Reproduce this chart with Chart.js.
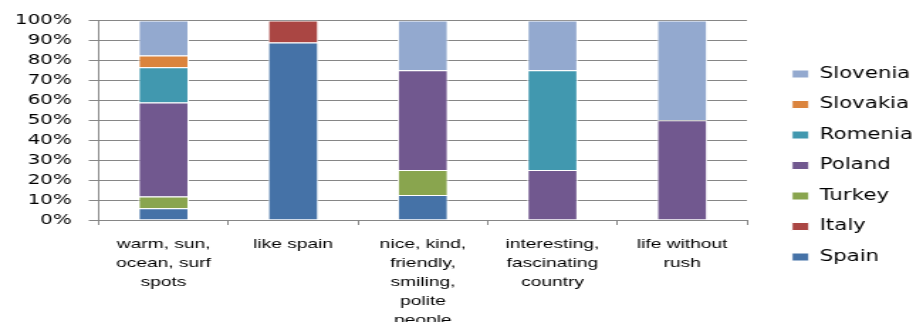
<!DOCTYPE html>
<html>
<head>
<meta charset="utf-8">
<script src="https://cdn.jsdelivr.net/npm/chart.js@4.4.1/dist/chart.umd.min.js"></script>
<style>
  html, body { margin: 0; padding: 0; background: #fff; overflow: hidden; }
  /* the reference is stretched sideways, so draw narrow and widen */
  #wrap { width: 643px; height: 322px; transform: scaleX(1.42); transform-origin: 0 0; }
</style>
</head>
<body>
<div id="wrap"><canvas id="answers"></canvas></div>
<script>
const categories = [
  ['warm, sun,', 'ocean, surf', 'spots'],
  'like spain',
  ['nice, kind,', 'friendly,', 'smiling,', 'polite', 'people'],
  ['interesting,', 'fascinating', 'country'],
  ['life without', 'rush']
];

// share of answers per country, in percent
const spain    = [5.9, 88.9, 12.5, 0, 0];
const italy    = [0, 11.1, 0, 0, 0];
const turkey   = [5.9, 0, 12.5, 0, 0];
const poland   = [47.1, 0, 50, 25, 50];
const romenia  = [17.6, 0, 0, 50, 0];
const slovakia = [5.9, 0, 0, 0, 0];
const slovenia = [17.6, 0, 25, 25, 50];

const yTicks = [0, 10, 20, 30, 40, 50, 60, 70, 80, 90, 100];

const gridColor = '#868686';
const legendWidth = 117;
const legendBoxX = 557.7;
const legendPadding = 15.5;

function series(label, data, color) {
  return {
    label: label,
    data: data,
    backgroundColor: color,
    borderColor: '#ffffff',
    borderWidth: 1,
    barPercentage: 0.39,
    categoryPercentage: 1
  };
}

// put the legend where the reference has it
const legendPlace = {
  id: 'legendPlace',
  beforeLayout(chart) {
    const lg = chart.legend;
    if (lg && !lg._patched) {
      const fit = lg.fit;
      lg.fit = function () {
        fit.call(this);
        this.width = legendWidth;
      };
      lg._patched = true;
    }
  },
  afterLayout(chart) {
    const lg = chart.legend;
    const w = lg.right - lg.left;
    lg.left = legendBoxX - legendPadding;
    lg.right = lg.left + w;
    lg.top = 6;
    lg.bottom = 325;
  }
};

Chart.defaults.font.family = '"DejaVu Sans", Verdana, sans-serif';
Chart.defaults.color = '#000000';

new Chart(document.getElementById('answers'), {
  type: 'bar',
  data: {
    labels: categories,
    datasets: [
      series('Spain', spain, '#4572A7'),
      series('Italy', italy, '#AA4643'),
      series('Turkey', turkey, '#89A54E'),
      series('Poland', poland, '#71588F'),
      series('Romenia', romenia, '#4198AF'),
      series('Slovakia', slovakia, '#DB843D'),
      series('Slovenia', slovenia, '#93A9CF')
    ]
  },
  options: {
    responsive: true,
    maintainAspectRatio: false,
    animation: false,
    layout: {
      padding: { top: 19, left: -1.5, right: 0, bottom: -17 }
    },
    plugins: {
      tooltip: { enabled: false },
      legend: {
        position: 'right',
        reverse: true,
        labels: {
          boxWidth: 12,
          boxHeight: 8,
          padding: legendPadding,
          color: '#000000',
          font: { size: 15 }
        }
      }
    },
    scales: {
      x: {
        stacked: true,
        grid: {
          drawOnChartArea: false,
          drawTicks: true,
          tickLength: 5,
          color: gridColor
        },
        border: { color: gridColor },
        ticks: {
          autoSkip: false,
          maxRotation: 0,
          minRotation: 0,
          padding: 9.5,
          color: '#000000',
          font: {
            family: '"Liberation Sans", Arial, sans-serif',
            size: 13.5,
            lineHeight: '19px'
          }
        }
      },
      y: {
        stacked: true,
        min: 0,
        max: 100,
        afterBuildTicks: (scale) => {
          scale.ticks = yTicks.map(v => ({ value: v }));
        },
        grid: {
          color: gridColor,
          tickLength: 7
        },
        border: { color: gridColor },
        ticks: {
          autoSkip: false,
          padding: 12,
          color: '#000000',
          font: { size: 14 },
          callback: (v) => v + '%'
        }
      }
    }
  },
  plugins: [legendPlace]
});
</script>
</body>
</html>
